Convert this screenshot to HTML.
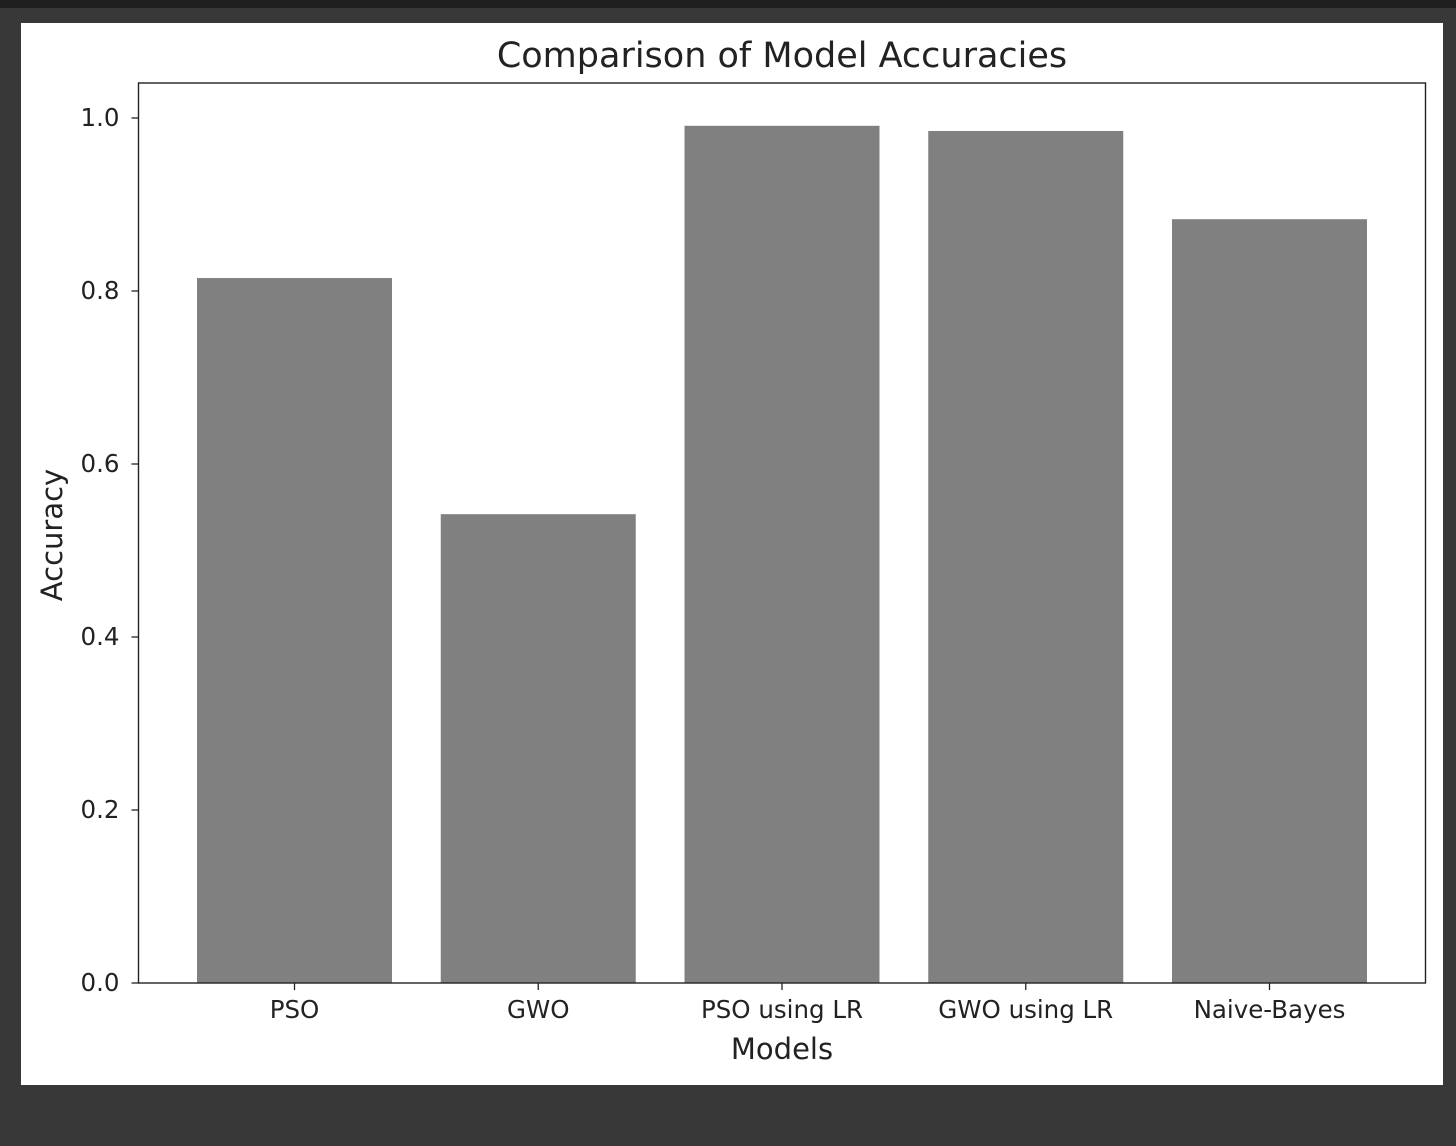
<!DOCTYPE html>
<html><head><meta charset="utf-8"><style>
html,body{margin:0;padding:0;background:#383838;width:1456px;height:1146px;overflow:hidden}
#topbar{position:absolute;left:0;top:0;width:1456px;height:8px;background:#1f1f1f}
#fig{position:absolute;left:21px;top:23px;width:1422px;height:1062px;background:#fff}
svg{position:absolute;left:0;top:0}
text{font-family:"DejaVu Sans","Liberation Sans",sans-serif;fill:#222}
</style></head><body>
<div id="topbar"></div>
<div id="fig"></div>
<svg id="chart" width="1456" height="1146"></svg>
<script>
const categories = ["PSO","GWO","PSO using LR","GWO using LR","Naive-Bayes"];
const accuracies = [0.815,0.542,0.991,0.985,0.883];
const yTicks = [0.0,0.2,0.4,0.6,0.8,1.0];
const yTickLabels = ["0.0","0.2","0.4","0.6","0.8","1.0"];

const L=138.5,R=1425.5,T=83,B=983;
const xMin=-0.64,xMax=4.64;
const yPerUnit=865;
const xs=v=>L+(v-xMin)/(xMax-xMin)*(R-L);
const ys=v=>B-v*yPerUnit;
const NS="http://www.w3.org/2000/svg";
const svg=document.getElementById('chart');
function mk(tag,attrs,txt){const e=document.createElementNS(NS,tag);for(const k in attrs)e.setAttribute(k,attrs[k]);if(txt!==undefined)e.textContent=txt;svg.appendChild(e);return e;}

const unit=(R-L)/(xMax-xMin);
categories.forEach((c,i)=>{
  const v=accuracies[i];
  const r=mk('rect',{x:xs(i)-0.4*unit,y:ys(v),width:0.8*unit,height:B-ys(v),fill:'#808080'});
  
  
  const t=mk('line',{x1:xs(i),x2:xs(i),y1:B,y2:B+7,stroke:'#222','stroke-width':1.3});
  
  
  const lb=mk('text',{x:xs(i),y:B+35,'text-anchor':'middle','font-size':'24.5'},c);
  
  
});
yTicks.forEach((v,i)=>{
  const t=mk('line',{x1:L-7,x2:L,y1:ys(v),y2:ys(v),stroke:'#222','stroke-width':1.3});
  
  
  const lb=mk('text',{x:L-19,y:ys(v)+8,'text-anchor':'end','font-size':'24.5'},yTickLabels[i]);
  
  
});
const fr=mk('rect',{x:L,y:T,width:R-L,height:B-T,fill:'none',stroke:'#222','stroke-width':1.4});


const ti=mk('text',{x:(L+R)/2,y:67,'text-anchor':'middle','font-size':'35'},'Comparison of Model Accuracies');


const xt=mk('text',{x:(L+R)/2,y:1059,'text-anchor':'middle','font-size':'29'},'Models');


const yt=mk('text',{x:0,y:0,'text-anchor':'middle','font-size':'29',transform:'translate(62,535) rotate(-90)'},'Accuracy');


</script>
</body></html>
